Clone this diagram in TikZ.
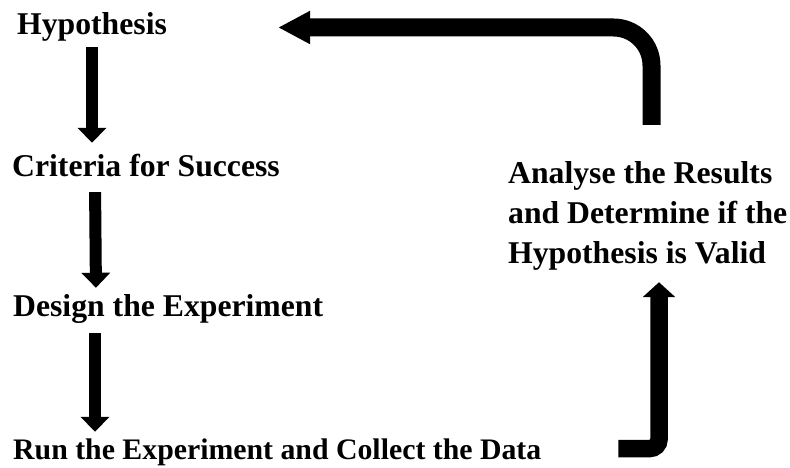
\documentclass[tikz,border=0pt]{standalone}
\usepackage{fontspec}
\setmainfont{Liberation Serif}
\usetikzlibrary{positioning,arrows.meta}

\begin{document}
\begin{tikzpicture}[x=1pt,y=-1pt,
  txt/.style={inner sep=0pt,font=\fontsize{31.7}{40}\selectfont\bfseries},
  lbl/.style={txt,anchor=base west,text height=22pt,text depth=7pt},
  downarr/.style={line width=12pt,-{Triangle[width=28pt,length=15pt]}},
  bendarr/.style={line width=18pt}]
\useasboundingbox (0,0) rectangle (790,468);
% steps down the left side
\node[lbl] (hyp) at (17,35) {Hypothesis};
\node[lbl] (crit) at (12,176) {Criteria for Success};
\node[lbl] (design) at (13,316) {Design the Experiment};
\node[lbl,font=\fontsize{29.8}{36}\selectfont\bfseries] (run) at (13,459)
  {Run the Experiment and Collect the Data};
\node[txt,align=left,anchor=north west] (analyse) at (508,161)
  {Analyse the Results\\and Determine if the\\Hypothesis is Valid};
% arrows
\draw[downarr,shorten <=5pt,shorten >=11pt] ([xshift=75pt]hyp.south west)
  -- ([xshift=80pt]crit.north west);
\draw[downarr,shorten <=9pt,shorten >=6pt] ([xshift=83pt]crit.south west)
  -- ([xshift=83pt]design.north west);
\draw[downarr,shorten <=10pt,shorten >=5pt] ([xshift=82pt]design.south west)
  -- ([xshift=82pt]run.north west);
\draw[bendarr,line width=17.5pt,rounded corners=9pt,-{Triangle[width=32pt,length=15pt]}]
  ([xshift=77pt,yshift=3pt]run.east) -| ([xshift=151pt,yshift=-12pt]analyse.south west);
\draw[bendarr,rounded corners=38pt,-{Triangle[width=31pt,length=32pt]}]
  ([xshift=143.5pt,yshift=36pt]analyse.north west) |- ([xshift=111pt]hyp.east);
\end{tikzpicture}
\end{document}
